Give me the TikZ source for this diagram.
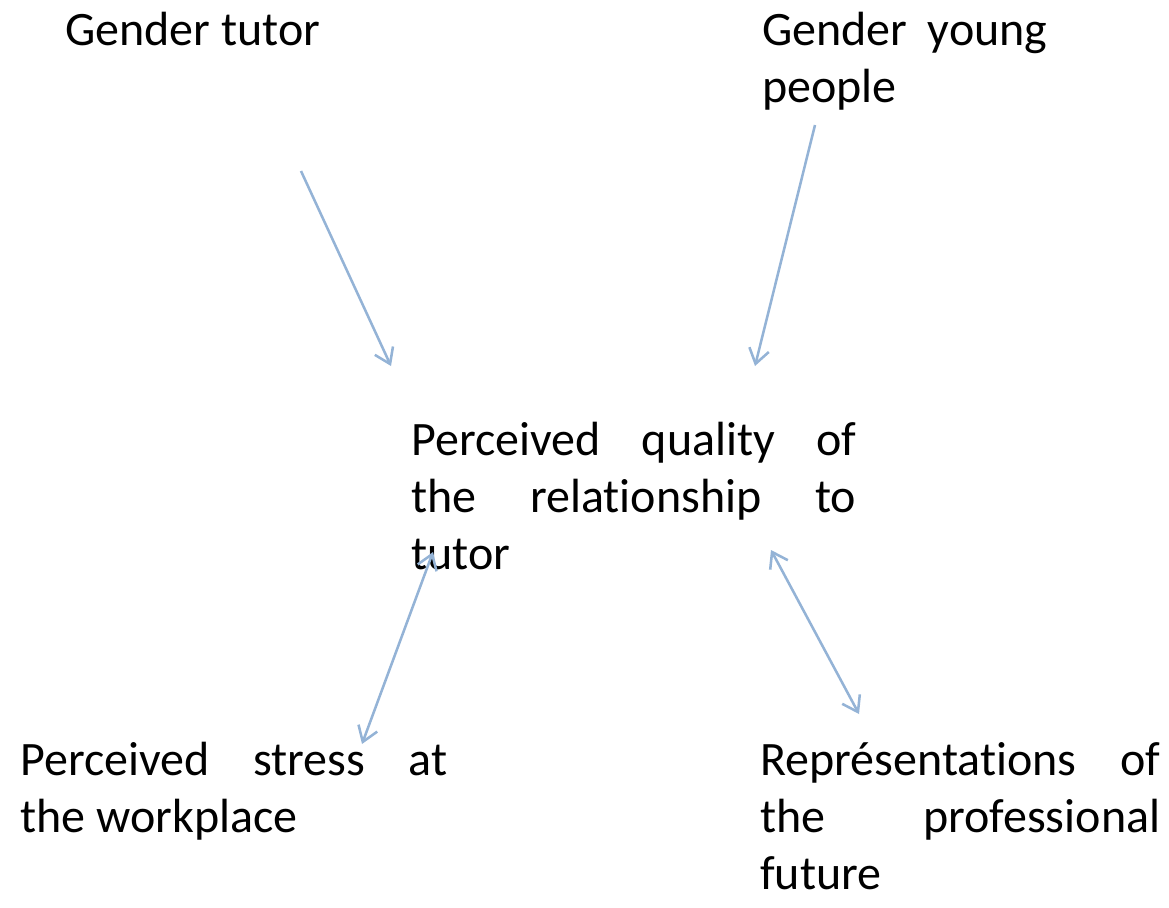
\documentclass[tikz,border=0pt]{standalone}
\usepackage{fontspec}
\setmainfont{Carlito}[Ligatures=NoCommon]
\usepackage{tikz}
\usetikzlibrary{arrows.meta}

\definecolor{linkblue}{RGB}{148,179,214}

\begin{document}
\begin{tikzpicture}[x=0.75pt, y=-0.75pt,
            >={Straight Barb[length=11pt, width=15pt]},
            label/.style={anchor=base west, inner sep=0pt, font=\fontsize{36}{42.75}\selectfont},
            box/.style={label, align=justify},
            link/.style={draw=linkblue, line width=1.9pt},]

        \useasboundingbox (0,0) rectangle (1169,907);

        % Variables de fond
        \node[label] (gtutor) at (65,45) {Gender tutor};
        \node[box, text width=213.75pt] (gyoung) at (762,45) {Gender young\linebreak people};

        % Variable centrale
        \node[box, text width=333.75pt] (quality) at (411,455) {Perceived quality of\linebreak the relationship to\linebreak tutor};

        % Variables en sortie
        \node[box, text width=320.25pt] (stress) at (20,775) {Perceived stress at\linebreak the workplace};
        \node[box, text width=300pt] (future) at (760,775) {Représentations of\linebreak the professional\linebreak future};

        % Points des fleches
        \coordinate (gtutorout)  at (301,171);
        \coordinate (gyoungout)  at (815,125);
        \coordinate (qualityin1) at (391,366);
        \coordinate (qualityin2) at (755,366);
        \coordinate (qualityl)   at (433,552);
        \coordinate (qualityr)   at (771,550);
        \coordinate (stressin)   at (362,744);
        \coordinate (futurein)   at (859,714);

        \foreach \from/\dest in {gtutorout/qualityin1, gyoungout/qualityin2}
            \draw[link, ->] (\from) -- (\dest);

        \foreach \from/\dest in {qualityl/stressin, qualityr/futurein}
            \draw[link, <->] (\from) -- (\dest);
    \end{tikzpicture}
\end{document}
